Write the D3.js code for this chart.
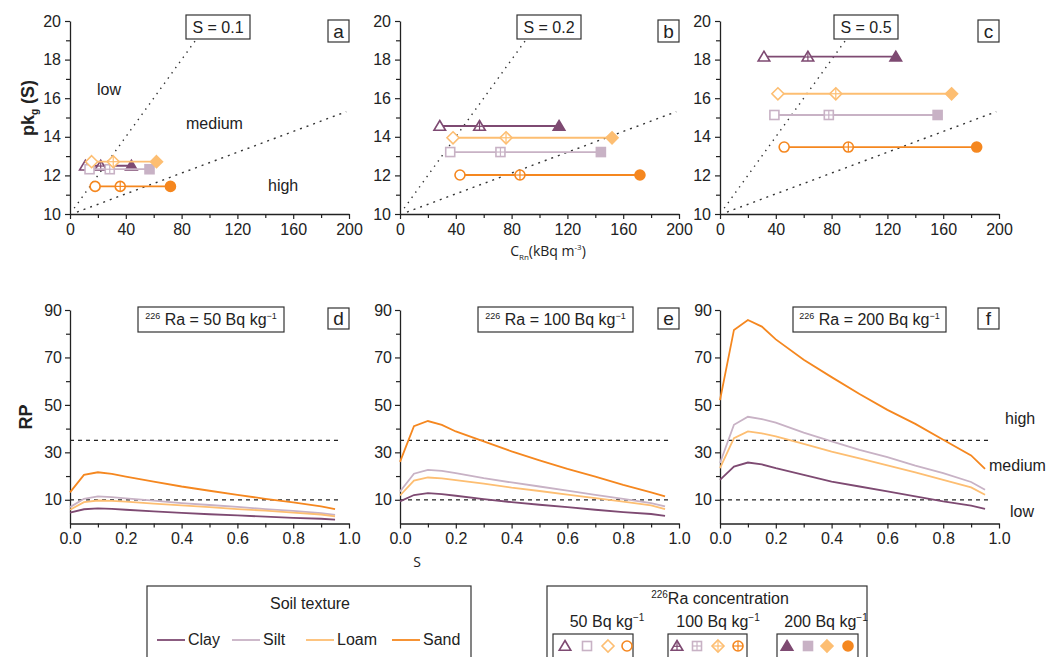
<!DOCTYPE html>
<html>
<head>
<meta charset="utf-8">
<script src="https://cdn.jsdelivr.net/npm/d3@7"></script>
<style>
  body { margin: 0; background: #fff; }
  text { font-family: "Liberation Sans", Arial, sans-serif; fill: #222; }
</style>
</head>
<body>
<script>
// soil textures, colours
const textures = ["Clay", "Silt", "Loam", "Sand"];
const colors = ["#7e4a72", "#c8b2c5", "#fdbe72", "#f5871f"];
const raLevels = ["50", "100", "200"];

// top row: pkg(S) and CRn for Ra = 50 / 100 / 200
const sLabels = ["S = 0.1", "S = 0.2", "S = 0.5"];
const pkgA = [12.5, 12.32, 12.71, 11.43];
const crnA = [[11, 22, 44], [14, 28.5, 57], [15.5, 31, 62], [18, 36, 72]];
const pkgB = [14.56, 13.21, 13.95, 12.02];
const crnB = [[28.5, 57, 114], [36, 72, 144], [38, 76, 152], [43, 86, 172]];
const pkgC = [18.15, 15.13, 16.23, 13.47];
const crnC = [[31.5, 63, 126], [39, 78, 156], [41.5, 83, 166], [46, 92, 184]];
const lowMedLine = [[3, 10.3], [90, 19]];
const medHighLine = [[5, 10.1], [198, 15.3]];

// bottom row: RP vs S
const sGrid = [0, 0.05, 0.1, 0.15, 0.2, 0.3, 0.4, 0.5, 0.6, 0.7, 0.8, 0.9, 0.95];
const rpD = [
  [4.6, 6, 6.4, 6.2, 5.8, 5.1, 4.5, 3.9, 3.4, 2.9, 2.4, 2, 1.6],
  [6.9, 10.4, 11.4, 11.1, 10.6, 9.6, 8.6, 7.8, 7, 6.1, 5.3, 4.4, 3.6],
  [5.8, 9, 9.7, 9.5, 9.2, 8.4, 7.6, 6.9, 6.1, 5.4, 4.6, 3.8, 3],
  [13.1, 20.5, 21.6, 20.9, 19.8, 17.7, 15.6, 13.8, 12.1, 10.4, 8.9, 7.2, 6.1]
];
const rpE = [
  [9.3, 12, 12.8, 12.4, 11.7, 10.3, 9, 7.9, 6.9, 5.8, 4.8, 4, 3.2],
  [13.5, 21, 22.6, 22.2, 21.2, 19.1, 17.3, 15.6, 13.9, 12.1, 10.4, 8.6, 7.2],
  [11.8, 18.1, 19.4, 19, 18.3, 16.8, 15.1, 13.7, 12.2, 10.7, 9.2, 7.6, 6.1],
  [26, 41, 43.2, 41.6, 38.8, 34.6, 30.4, 26.6, 23, 19.8, 16.3, 13.1, 11.4]
];
const rpF = [
  [18.4, 24, 25.7, 24.9, 23.3, 20.5, 17.7, 15.6, 13.5, 11.4, 9.3, 7.5, 6.2],
  [25.5, 41.6, 45, 44, 42.5, 38.3, 34.6, 31, 28, 24.4, 21.2, 17.5, 14.2],
  [23.3, 36, 38.8, 38, 36.7, 33.6, 30.3, 27.5, 24.5, 21.5, 18.4, 15.2, 12.1],
  [52, 81.6, 85.8, 83, 77.6, 69, 61.7, 54.6, 47.9, 42, 35.3, 28.7, 23]
];
const raTitles = ["50", "100", "200"];
const letters = ["a", "b", "c", "d", "e", "f"];

const svg = d3.select("body").append("svg")
  .attr("width", 1062).attr("height", 657);

const lefts = [70, 400, 720];
const pw = 279;
const FS = 16;

function styleAxis(g) {
  g.selectAll("path.domain").attr("stroke", "#222").attr("stroke-width", 1.3);
  g.selectAll(".tick line").attr("stroke", "#222").attr("stroke-width", 1.2);
  g.selectAll(".tick text").style("font-size", FS + "px").attr("fill", "#222")
    .style("font-family", "Liberation Sans, Arial, sans-serif");
}

function boxLabel(g, x, y, w, h, build, fs) {
  g.append("rect").attr("x", x).attr("y", y).attr("width", w).attr("height", h)
    .attr("fill", "#fff").attr("stroke", "#333").attr("stroke-width", 1.2);
  const t = g.append("text").attr("x", x + w / 2).attr("y", y + h / 2 + fs * 0.36)
    .attr("text-anchor", "middle").style("font-size", fs + "px");
  build(t);
}

function marker(g, shape, level, cx, cy, color) {
  const m = g.append("g").attr("transform", `translate(${cx},${cy})`);
  const fill = level === 2 ? color : "#fff";
  let ext;
  if (shape === 0) {
    m.append("path").attr("d", "M0,-5.5L5.8,4.3L-5.8,4.3Z");
    ext = [[0, -5.5, 0, 4.3], [-3, 0.3, 3, 0.3]];
  } else if (shape === 1) {
    m.append("rect").attr("x", -4.5).attr("y", -4.5).attr("width", 9).attr("height", 9);
    ext = [[0, -4.5, 0, 4.5], [-4.5, 0, 4.5, 0]];
  } else if (shape === 2) {
    m.append("path").attr("d", "M0,-6L6,0L0,6L-6,0Z");
    ext = [[0, -6, 0, 6], [-6, 0, 6, 0]];
  } else {
    m.append("circle").attr("r", 5);
    ext = [[0, -5, 0, 5], [-5, 0, 5, 0]];
  }
  m.selectAll("path,rect,circle").attr("fill", fill).attr("stroke", color).attr("stroke-width", 1.6);
  if (level === 1) {
    ext.forEach(e => m.append("line").attr("x1", e[0]).attr("y1", e[1]).attr("x2", e[2]).attr("y2", e[3])
      .attr("stroke", color).attr("stroke-width", 1.2));
  }
}

// ---------- top row ----------
const pkgs = [pkgA, pkgB, pkgC];
const crns = [crnA, crnB, crnC];
const sBoxX = [186, 517, 834];

lefts.forEach((left, p) => {
  const x = d3.scaleLinear().domain([0, 200]).range([left, left + pw]);
  const y = d3.scaleLinear().domain([10, 20]).range([214, 21]);
  const g = svg.append("g");

  // zone boundaries
  const line = d3.line().x(d => x(d[0])).y(d => y(d[1]));
  g.append("path").attr("d", line(lowMedLine)).attr("fill", "none")
    .attr("stroke", "#333").attr("stroke-width", 1.4).attr("stroke-dasharray", "1.4,5");
  g.append("path").attr("d", line(medHighLine)).attr("fill", "none")
    .attr("stroke", "#333").attr("stroke-width", 1.4).attr("stroke-dasharray", "2,5");

  // axes
  const xa = g.append("g").attr("transform", "translate(0,214)")
    .call(d3.axisBottom(x).tickValues([0, 40, 80, 120, 160, 200]).tickSize(5).tickSizeOuter(0));
  g.append("g").attr("transform", "translate(0,214)")
    .call(d3.axisBottom(x).tickValues([20, 60, 100, 140, 180]).tickSize(4).tickFormat(""))
    .call(s => s.select(".domain").remove()).call(styleAxis);
  styleAxis(xa);
  xa.selectAll(".tick text").attr("dy", "0.8em");
  const ya = g.append("g").attr("transform", `translate(${left},0)`)
    .call(d3.axisLeft(y).tickValues([10, 12, 14, 16, 18, 20]).tickSize(5).tickSizeOuter(0));
  g.append("g").attr("transform", `translate(${left},0)`)
    .call(d3.axisLeft(y).tickValues([11, 13, 15, 17, 19]).tickSize(4).tickFormat(""))
    .call(s => s.select(".domain").remove()).call(styleAxis);
  styleAxis(ya);
  ya.selectAll(".tick text").attr("dx", "-1px");

  // series
  textures.forEach((tex, i) => {
    const vals = crns[p][i];
    const py = y(pkgs[p][i]);
    g.append("line").attr("x1", x(vals[0])).attr("x2", x(vals[2]))
      .attr("y1", py).attr("y2", py).attr("stroke", colors[i]).attr("stroke-width", 1.8);
    vals.forEach((v, k) => marker(g, i, k, x(v), py, colors[i]));
  });

  boxLabel(g, sBoxX[p], 15, 64, 24, t => t.text(sLabels[p]), FS);
  boxLabel(g, left + pw - 21, 20, 21, 22, t => t.text(letters[p]), 19);
});

// zone labels in panel a
[["low", 97, 95], ["medium", 186, 129], ["high", 268, 191]].forEach(d =>
  svg.append("text").attr("x", d[1]).attr("y", d[2]).style("font-size", FS + "px").text(d[0]));

// axis titles top
svg.append("text").attr("transform", "translate(34,108) rotate(-90)")
  .attr("text-anchor", "middle").style("font-size", "18px").style("font-weight", "bold")
  .call(t => {
    t.append("tspan").text("pk");
    t.append("tspan").text("g").style("font-size", "10px").attr("dy", 4);
    t.append("tspan").text(" (S)").attr("dy", -4);
  });
svg.append("text").attr("x", 548).attr("y", 256).attr("text-anchor", "middle")
  .style("font-family", "Open Sans, sans-serif").style("font-size", "14px")
  .call(t => {
    t.append("tspan").text("C");
    t.append("tspan").text("Rn").style("font-size", "8px").attr("dy", 4);
    t.append("tspan").text("(kBq m").attr("dy", -4);
    t.append("tspan").text("-3").style("font-size", "8px").attr("dy", -6);
    t.append("tspan").text(")").attr("dy", 6);
  });

// ---------- bottom row ----------
const rps = [rpD, rpE, rpF];
const raBoxX = [138, 478, 793];
const raBoxW = [146, 155, 153];

lefts.forEach((left, p) => {
  const x = d3.scaleLinear().domain([0, 1]).range([left, left + pw]);
  const y = d3.scaleLinear().domain([0, 90]).range([523.5, 310]);
  const g = svg.append("g");

  [10, 35].forEach(v => g.append("line").attr("x1", x(0)).attr("x2", x(0.97))
    .attr("y1", y(v)).attr("y2", y(v)).attr("stroke", "#222")
    .attr("stroke-width", 1.3).attr("stroke-dasharray", "4,4"));

  const xa = g.append("g").attr("transform", "translate(0,523.5)")
    .call(d3.axisBottom(x).tickValues([0, 0.2, 0.4, 0.6, 0.8, 1]).tickFormat(d3.format(".1f"))
      .tickSize(5).tickSizeOuter(0));
  g.append("g").attr("transform", "translate(0,523.5)")
    .call(d3.axisBottom(x).tickValues([0.1, 0.3, 0.5, 0.7, 0.9]).tickSize(4).tickFormat(""))
    .call(s => s.select(".domain").remove()).call(styleAxis);
  styleAxis(xa);
  xa.selectAll(".tick text").attr("dy", "0.8em");
  const ya = g.append("g").attr("transform", `translate(${left},0)`)
    .call(d3.axisLeft(y).tickValues([10, 30, 50, 70, 90]).tickSize(5).tickSizeOuter(0));
  g.append("g").attr("transform", `translate(${left},0)`)
    .call(d3.axisLeft(y).tickValues([20, 40, 60, 80]).tickSize(4).tickFormat(""))
    .call(s => s.select(".domain").remove()).call(styleAxis);
  styleAxis(ya);

  const line = d3.line().x((d, j) => x(sGrid[j])).y(d => y(d));
  textures.forEach((tex, i) => {
    g.append("path").attr("d", line(rps[p][i])).attr("fill", "none")
      .attr("stroke", colors[i]).attr("stroke-width", 1.8);
  });

  boxLabel(g, raBoxX[p], 307, raBoxW[p], 25, t => {
    t.append("tspan").text("226").style("font-size", "9px").attr("dy", -6);
    t.append("tspan").text(" Ra = " + raTitles[p] + " Bq kg").attr("dy", 6);
    t.append("tspan").text("−1").style("font-size", "9px").attr("dy", -6);
  }, FS);
  boxLabel(g, left + pw - 21, 308, 21, 21, t => t.text(letters[p + 3]), 19);
});

[["high", 1005, 424], ["medium", 989, 471], ["low", 1010, 517]].forEach(d =>
  svg.append("text").attr("x", d[1]).attr("y", d[2]).style("font-size", FS + "px").text(d[0]));

svg.append("text").attr("transform", "translate(32,417) rotate(-90)")
  .attr("text-anchor", "middle").style("font-size", "18px").style("font-weight", "bold").text("RP");
svg.append("text").attr("x", 417).attr("y", 567).attr("text-anchor", "middle")
  .style("font-family", "Open Sans, sans-serif").style("font-size", "14px").text("S");

// ---------- legends ----------
const lg = svg.append("g");
lg.append("rect").attr("x", 147).attr("y", 586).attr("width", 324).attr("height", 80)
  .attr("fill", "none").attr("stroke", "#333").attr("stroke-width", 1.2);
lg.append("text").attr("x", 310).attr("y", 609).attr("text-anchor", "middle")
  .style("font-size", FS + "px").text("Soil texture");
const legX = [157, 232, 306, 392];
textures.forEach((tex, i) => {
  lg.append("line").attr("x1", legX[i]).attr("x2", legX[i] + 28).attr("y1", 640).attr("y2", 640)
    .attr("stroke", colors[i]).attr("stroke-width", 1.8);
  lg.append("text").attr("x", legX[i] + 31).attr("y", 645).style("font-size", FS + "px").text(tex);
});

lg.append("rect").attr("x", 547).attr("y", 586).attr("width", 320).attr("height", 80)
  .attr("fill", "none").attr("stroke", "#333").attr("stroke-width", 1.2);
lg.append("text").attr("x", 720).attr("y", 604).attr("text-anchor", "middle")
  .style("font-size", FS + "px")
  .call(t => {
    t.append("tspan").text("226").style("font-size", "10px").attr("dy", -6);
    t.append("tspan").text("Ra concentration").attr("dy", 6);
  });
const subX = [607, 718, 826];
const smallBox = [[553, 80], [668, 79], [777, 81]];
const mkX = [[565, 587, 608, 627], [677, 697, 718, 738], [787, 808, 827, 848]];
raLevels.forEach((lv, k) => {
  lg.append("text").attr("x", subX[k]).attr("y", 627).attr("text-anchor", "middle")
    .style("font-size", FS + "px")
    .call(t => {
      t.append("tspan").text(lv + " Bq kg");
      t.append("tspan").text("−1").style("font-size", "10px").attr("dy", -6);
    });
  lg.append("rect").attr("x", smallBox[k][0]).attr("y", 634).attr("width", smallBox[k][1]).attr("height", 30)
    .attr("fill", "none").attr("stroke", "#333").attr("stroke-width", 1.2);
  textures.forEach((tex, i) => marker(lg, i, k, mkX[k][i], 646, colors[i]));
});
</script>
</body>
</html>
